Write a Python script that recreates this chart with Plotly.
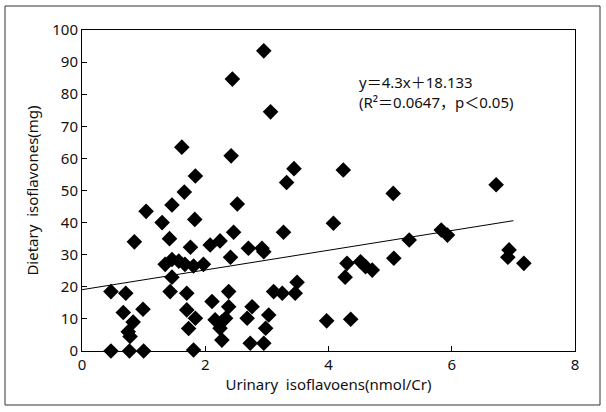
import plotly.graph_objects as go

urinary = [0.47, 0.77, 1.00, 1.81, 0.47, 0.71, 0.67, 0.99, 0.83, 0.75, 0.78,
           0.85, 1.04, 1.30, 1.46, 1.66, 1.84, 1.62, 1.83, 1.42, 1.76,
           1.35, 1.46, 1.57, 1.67, 1.81, 1.97, 1.46, 1.43, 1.70, 1.70, 1.84, 1.73,
           2.08, 2.24, 2.46, 2.52, 2.42, 2.44, 2.95, 3.06, 2.41, 2.70, 2.92, 2.95,
           2.11, 2.38, 2.38, 2.16, 2.27, 2.33, 2.24, 2.27, 2.76, 2.68, 3.03, 2.98,
           2.73, 2.95, 3.11, 3.25, 3.46, 3.49, 3.27, 3.32, 3.44,
           4.24, 4.08, 3.97, 4.36, 4.30, 4.52, 4.60, 4.71, 4.27, 5.05, 5.06, 5.31,
           5.83, 5.93, 6.72, 6.93, 6.91, 7.17]
dietary = [0, 0, 0, 0.3, 18.5, 18, 12, 13, 9, 6, 4.5,
           34, 43.5, 40, 45.5, 49.5, 54.5, 63.5, 41, 35, 32.3,
           27, 28.5, 28, 27, 26.5, 27, 23, 18.5, 18, 12.8, 10.2, 7,
           33, 34.3, 37, 45.8, 60.8, 84.7, 93.5, 74.5, 29.2, 32, 32, 30.9,
           15.4, 18.5, 13.8, 9.7, 9.1, 10.2, 7.1, 3.4, 13.8, 10.2, 11.2, 7.1,
           2.4, 2.4, 18.5, 18, 18, 21.4, 37, 52.5, 56.8,
           56.4, 39.8, 9.4, 9.9, 27.3, 27.8, 26.3, 25.2, 23, 49.1, 28.9, 34.6,
           37.7, 36.1, 51.8, 31.5, 29.2, 27.3]

line_x = [0, 7.0]
line_y = [19.1, 40.6]

x_ticks = [0, 2, 4, 6, 8]
y_ticks = [0, 10, 20, 30, 40, 50, 60, 70, 80, 90, 100]

FONT = "Noto Sans, Noto Sans CJK JP, sans-serif"

fig = go.Figure()
fig.add_trace(go.Scatter(x=line_x, y=line_y, mode="lines",
                         line=dict(color="black", width=1), hoverinfo="skip"))
fig.add_trace(go.Scatter(x=urinary, y=dietary, mode="markers",
                         marker=dict(symbol="diamond", size=12, color="black",
                                     line=dict(width=0)), cliponaxis=False))

fig.update_layout(
    width=606, height=412,
    margin=dict(l=82, r=31, t=30, b=61, autoexpand=False),
    paper_bgcolor="white", plot_bgcolor="white",
    showlegend=False,
    font=dict(family=FONT, size=15, color="#111"),
    xaxis=dict(range=[0, 8], tickvals=x_ticks, showgrid=False, zeroline=False,
               automargin=False,
               showline=True, linecolor="black", linewidth=1, mirror=True,
               ticks="inside", ticklen=5, tickcolor="black",
               title=dict(text="Urinary  isoflavoens(nmol/Cr)", standoff=6,
                          font=dict(size=15))),
    yaxis=dict(range=[0, 100], tickvals=y_ticks, showgrid=False, zeroline=False,
               automargin=False,
               showline=True, linecolor="black", linewidth=1, mirror=True,
               ticks="inside", ticklen=5, tickcolor="black",
               title=dict(text="Dietary  isoflavones(mg)", standoff=10,
                          font=dict(size=15))),
    annotations=[dict(xref="paper", yref="paper", x=(357 - 82) / 493, y=(351 - 92) / 321,
                      xanchor="left", yanchor="middle", showarrow=False, align="left",
                      text="y＝4.3x＋18.133<br>(R²＝0.0647，p＜0.05)",
                      font=dict(size=15, color="#111"))],
    shapes=[dict(type="rect", xref="paper", yref="paper",
                 x0=(5 - 82) / 493, x1=(600 - 82) / 493,
                 y0=(351 - 405) / 321, y1=(351 - 6) / 321,
                 line=dict(color="#333", width=1), fillcolor="rgba(0,0,0,0)")],
)

fig.write_html("out.html", config={"displayModeBar": False},
               post_script="document.body.style.margin='0';document.body.style.overflow='hidden';")
